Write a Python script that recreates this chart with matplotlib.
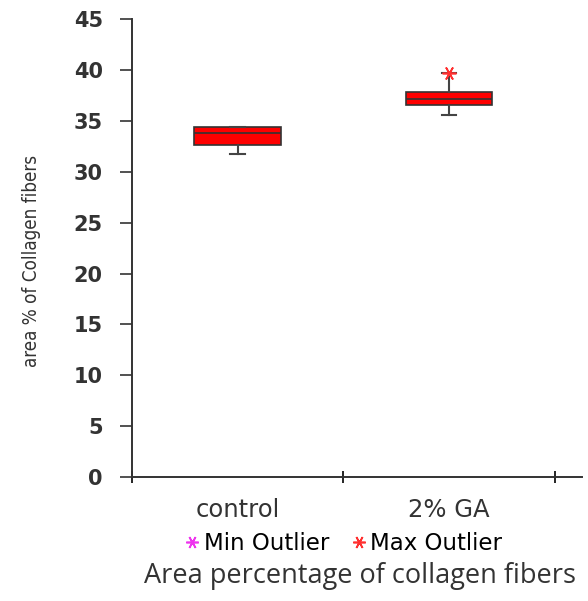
import matplotlib
matplotlib.use("Agg")
import matplotlib.pyplot as plt
from matplotlib.lines import Line2D

groups = ["control", "2% GA"]
q1 = [32.6, 36.6]
med = [33.8, 37.2]
q3 = [34.4, 37.8]
whis_lo = [31.8, 35.6]
whis_hi = [34.4, 39.7]
max_outliers = [[], [39.7]]

fig = plt.figure(figsize=(5.88, 6.01), dpi=100)
ax = fig.add_axes([0.2245, 0.2063, 0.7655, 0.7617])

stats = []
for i, g in enumerate(groups):
    stats.append({"label": g, "q1": q1[i], "med": med[i], "q3": q3[i],
                  "whislo": whis_lo[i], "whishi": whis_hi[i], "fliers": []})

positions = [0.5, 1.5]
ax.bxp(stats, positions=positions, widths=0.41, patch_artist=True,
       showfliers=False,
       boxprops=dict(facecolor="#ff0000", edgecolor="#333333", linewidth=1.2),
       medianprops=dict(color="#333333", linewidth=1.2),
       whiskerprops=dict(color="#444444", linewidth=1.5),
       capprops=dict(color="#444444", linewidth=1.5),
       capwidths=0.07)

for i, outs in enumerate(max_outliers):
    for v in outs:
        ax.plot(positions[i], v, marker=(6, 2, 90), color="#ff3030",
                markersize=10, markeredgewidth=1.2)

ax.set_ylim(0, 45)
ax.set_xlim(0, 2.13)
ax.set_yticks(range(0, 46, 5))
ax.set_xticks([0, 1, 2])
ax.set_xticklabels([])
ax.tick_params(axis="y", direction="out", length=9, width=1.2, labelsize=15,
               colors="#333333", pad=12)
ax.tick_params(axis="x", direction="inout", length=8, width=1.2)
for lab in ax.get_yticklabels():
    lab.set_fontfamily("DejaVu Sans")
    lab.set_fontweight("bold")
    lab.set_color("#333333")

for i, g in enumerate(groups):
    ax.text(positions[i], -3.2, g, ha="center", va="center", fontsize=17.5,
            family="DejaVu Sans", color="#333333")

for s in ["top", "right"]:
    ax.spines[s].set_visible(False)
for s in ["left", "bottom"]:
    ax.spines[s].set_color("#333333")
    ax.spines[s].set_linewidth(1.4)

fig.text(0.054, 0.566, "area % of Collagen fibers", rotation=90, ha="center",
         va="center", fontsize=13.5, family="DejaVu Sans", stretch="condensed",
         color="#333333")

handles = [
    Line2D([], [], linestyle="none", marker=(6, 2, 90), color="#ee33ee",
           markersize=9, markeredgewidth=1.2),
    Line2D([], [], linestyle="none", marker=(6, 2, 90), color="#ff3030",
           markersize=9, markeredgewidth=1.2),
]
fig.legend(handles, ["Min Outlier", "Max Outlier"], loc="center",
           bbox_to_anchor=(0.585, 0.095), ncol=2, frameon=False,
           handlelength=0.6, handletextpad=0.2, columnspacing=1.0,
           prop=dict(family="DejaVu Sans", size=16.5))

fig.text(0.612, 0.041, "Area percentage of collagen fibers", ha="center",
         va="center", fontsize=19.5, family="Open Sans", color="#333333")

fig.savefig("out.png", dpi=100)
